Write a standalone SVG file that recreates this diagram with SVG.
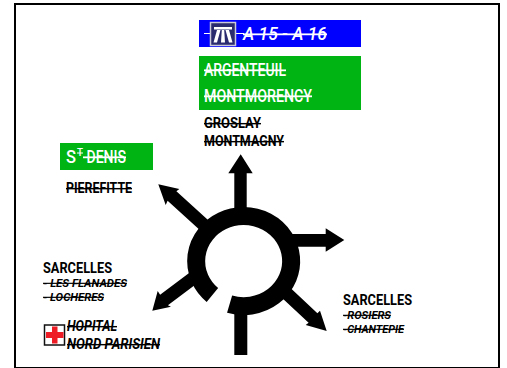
<svg xmlns="http://www.w3.org/2000/svg" width="507" height="368" viewBox="0 0 507 368">
<style>
text{font-family:"Roboto","Liberation Sans",sans-serif;font-weight:700;text-decoration:line-through;white-space:pre}
.w{fill:#fff;font-weight:500}.k{fill:#000}.i{font-style:italic}
.s{font-size:14px}.t{font-size:11.5px}.g{font-size:18px}
.n{text-decoration:none}
.ar{fill:#000;stroke:none}
</style>
<rect width="507" height="368" fill="#fff"/>
<rect x="15" y="4" width="484" height="364" fill="none" stroke="#000" stroke-width="2"/>
<g id="connectors">
<path d="M212.4 295A47.5 45 0 1 1 229.6 304.1" fill="none" stroke="#000" stroke-width="18"/>
<path class="ar" d="M234.3 212V173.3H228.3L240.7 154.3L252.7 173.3H246.7V212Z"/>
<path class="ar" d="M285 234H325.7V228.3L344.3 240L325.7 251.7V246.7H285Z"/>
<path class="ar" d="M209.4 221.2L176.4 191.2L179.3 189L158.3 184.3L165.7 205L167.6 200.8L200.6 230.8Z"/>
<path class="ar" d="M192.1 270.8L160.1 294.8L157.7 291L152.3 310.7L171 306.7L167.9 305.2L199.9 281.2Z"/>
<path class="ar" d="M282 280L317.4 313.2L320 310.7L326.7 331L305.7 325L308.6 322.8L273.5 290Z"/>
<path class="ar" d="M234.3 308H247.3V355H234.3Z"/>
</g>
<g id="sign-a15">
<rect x="199" y="20" width="162" height="27" fill="#0000ff"/>
<rect x="204" y="33" width="40" height="1" fill="#fff"/>
<text class="w i g" x="243" y="40" textLength="84" lengthAdjust="spacingAndGlyphs">A 15 - A 16</text>
<rect x="210.5" y="22.5" width="25" height="23" fill="#2a2a6e" stroke="#c8c8d8" stroke-width="1.5"/>
<path d="M214 27H232V29.5H214ZM217 30H220.5L217 42.5H213.5ZM229 30H225.5L229 42.5H232.5ZM221.8 30H224.2L225 42.5H221Z" fill="#fff"/>
</g>
<g id="sign-argenteuil">
<rect x="199" y="56" width="162" height="54" fill="#00b414"/>
<text class="w g" x="204" y="76" textLength="82" lengthAdjust="spacingAndGlyphs">ARGENTEUIL</text>
<text class="w g" x="204" y="102" textLength="108" lengthAdjust="spacingAndGlyphs">MONTMORENCY</text>
</g>
<g id="label-groslay">
<text class="k s" x="204" y="128" textLength="57" lengthAdjust="spacingAndGlyphs">GROSLAY</text>
<text class="k s" x="204" y="146" textLength="80" lengthAdjust="spacingAndGlyphs">MONTMAGNY</text>
</g>
<g id="sign-stdenis">
<rect x="60" y="143" width="93" height="27" fill="#00b414"/>
<text class="w g n" x="66" y="163" textLength="10" lengthAdjust="spacingAndGlyphs">S</text>
<text class="w" x="77" y="156" font-size="10" textLength="6" lengthAdjust="spacingAndGlyphs">T</text>
<text class="w g" x="83" y="163" textLength="43" lengthAdjust="spacingAndGlyphs"> DENIS</text>
</g>
<g id="label-pierefitte"><text class="k s" x="66" y="193" textLength="66" lengthAdjust="spacingAndGlyphs">PIEREFITTE</text></g>
<g id="label-sarcelles-left">
<text class="k s n" x="43" y="273" textLength="69" lengthAdjust="spacingAndGlyphs">SARCELLES</text>
<text class="k i t" x="43" y="287" textLength="84" lengthAdjust="spacingAndGlyphs">- LES FLANADES</text>
<text class="k i t" x="43" y="301" textLength="61" lengthAdjust="spacingAndGlyphs">- LOCHERES</text>
</g>
<g id="label-hopital">
<rect x="44.5" y="325" width="20" height="20" fill="#fff" stroke="#111" stroke-width="1.5"/>
<path d="M52 326.5H57.5V332H63.5V338H57.5V343.5H52V338H46V332H52Z" fill="#ee1c25"/>
<text class="k i s" x="67" y="331" textLength="50" lengthAdjust="spacingAndGlyphs">HOPITAL</text>
<text class="k i s" x="67" y="349" textLength="93" lengthAdjust="spacingAndGlyphs">NORD PARISIEN</text>
</g>
<g id="label-sarcelles-right">
<text class="k s n" x="343" y="305" textLength="69" lengthAdjust="spacingAndGlyphs">SARCELLES</text>
<text class="k i t" x="343" y="319" textLength="48" lengthAdjust="spacingAndGlyphs">-ROSIERS</text>
<text class="k i t" x="343" y="333" textLength="61" lengthAdjust="spacingAndGlyphs">-CHANTEPIE</text>
</g>
</svg>
